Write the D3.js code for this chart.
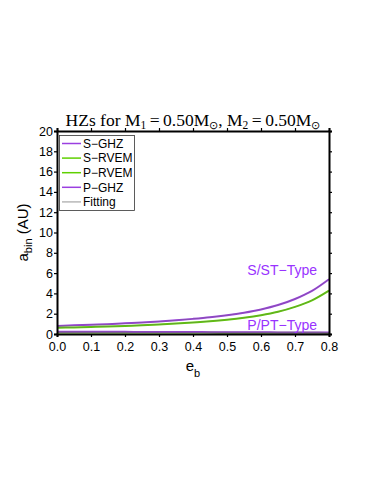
<!DOCTYPE html>
<html><head><meta charset="utf-8">
<script src="https://cdn.jsdelivr.net/npm/d3@7"></script>
<style>body{margin:0;background:#fff}svg{display:block}</style>
</head><body>
<svg id="c" width="374" height="484"></svg>
<script>
const eb = [0,0.05,0.1,0.15,0.2,0.25,0.3,0.35,0.4,0.45,0.5,0.55,0.6,0.65,0.7,0.75,0.8];
const sGHZ  = [0.80,0.85,0.91,0.97,1.05,1.13,1.23,1.35,1.49,1.65,1.85,2.10,2.42,2.85,3.45,4.25,5.40];
const sRVEM = [0.61,0.65,0.69,0.74,0.80,0.86,0.94,1.03,1.14,1.26,1.41,1.60,1.85,2.19,2.67,3.32,4.28];
const pRVEM = [0.16,0.16,0.16,0.15,0.15,0.15,0.15,0.14,0.14,0.14,0.13,0.13,0.13,0.12,0.12,0.12,0.11];
const pGHZ  = [0.22,0.22,0.21,0.21,0.21,0.20,0.20,0.19,0.19,0.18,0.18,0.17,0.17,0.16,0.16,0.15,0.15];
const xTicks = [0,0.1,0.2,0.3,0.4,0.5,0.6,0.7,0.8];
const yTicks = [0,2,4,6,8,10,12,14,16,18,20];
const legendNames = ["S\u2212GHZ","S\u2212RVEM","P\u2212RVEM","P\u2212GHZ","Fitting"];

const purple = "#9b3fe0", green = "#5fd000", gray = "#b8b8b8";
const legendColors = [purple, green, green, purple, gray];

const svg = d3.select("#c");
const L = 57, R = 329, T = 131, B = 334;
const x = d3.scaleLinear().domain([0,0.8]).range([L,R]);
const y = d3.scaleLinear().domain([0,20]).range([B,T]);
const sans = "'Liberation Sans', Arial, sans-serif";
const serif = "'Liberation Serif', 'Times New Roman', serif";

// curves
const line = d3.line().x((d,i)=>x(eb[i])).y(d=>y(d)).curve(d3.curveMonotoneX);
const g = svg.append("g");
[[sGHZ,purple],[sRVEM,green],[pRVEM,green],[pGHZ,purple]].forEach(([s,c])=>{
  g.append("path").attr("d",line(s)).attr("fill","none").attr("stroke",c).attr("stroke-width",2);
});
[sGHZ,sRVEM,pRVEM,pGHZ].forEach(s=>{
  g.append("path").attr("d",line(s)).attr("fill","none").attr("stroke","#6a6a6a").attr("stroke-width",0.6).attr("opacity",0.7);
});

// axes
const ax = (sel)=>{sel.selectAll("path").attr("stroke","#000").attr("stroke-width",2);
  sel.selectAll("line").attr("stroke","#000").attr("stroke-width",1.2);
  sel.selectAll("text").attr("font-family",sans).attr("font-size",12.5).attr("fill","#000");};
svg.append("g").attr("transform",`translate(0,${B})`)
  .call(d3.axisBottom(x).tickValues(xTicks).tickFormat(d3.format(".1f")).tickSizeOuter(0).tickSize(3).tickPadding(5)).call(ax);
svg.append("g").attr("transform",`translate(0,${T})`)
  .call(d3.axisTop(x).tickValues(xTicks).tickFormat("").tickSizeOuter(0).tickSize(3)).call(ax);
svg.append("g").attr("transform",`translate(${L},0)`)
  .call(d3.axisLeft(y).tickValues(yTicks).tickFormat(d3.format("d")).tickSizeOuter(0).tickSize(3).tickPadding(1)).call(ax);
svg.append("g").attr("transform",`translate(${R},0)`)
  .call(d3.axisRight(y).tickValues(yTicks).tickFormat("").tickSizeOuter(0).tickSize(3)).call(ax);

// title
const t = svg.append("text").attr("x",(L+R)/2).attr("y",126).attr("text-anchor","middle")
  .attr("font-family",serif).attr("font-size",17.5).attr("fill","#000");
t.append("tspan").text("HZs for M");
t.append("tspan").text("1").attr("font-size",11.5).attr("dy",3);
t.append("tspan").text("\u2009=\u20090.50M").attr("dy",-3);
t.append("tspan").text("\u2299").attr("font-size",10.5).attr("dy",3);
t.append("tspan").text(", M").attr("dy",-3);
t.append("tspan").text("2").attr("font-size",11.5).attr("dy",3);
t.append("tspan").text("\u2009=\u20090.50M").attr("dy",-3);
t.append("tspan").text("\u2299").attr("font-size",10.5).attr("dy",3);

// axis labels
const yl = svg.append("text").attr("transform",`translate(28,${(T+B)/2}) rotate(-90)`).attr("text-anchor","middle")
  .attr("font-family",sans).attr("font-size",15).attr("fill","#000");
yl.append("tspan").text("a");
yl.append("tspan").text("bin").attr("font-size",11).attr("dy",4);
yl.append("tspan").text(" (AU)").attr("dy",-4);
const xl = svg.append("text").attr("x",(L+R)/2).attr("y",371).attr("text-anchor","middle")
  .attr("font-family",sans).attr("font-size",15).attr("fill","#000");
xl.append("tspan").text("e");
xl.append("tspan").text("b").attr("font-size",11).attr("dy",6);

// legend
const lg = svg.append("g");
lg.append("rect").attr("x",59.5).attr("y",135.5).attr("width",75).attr("height",75)
  .attr("fill","#fff").attr("stroke","#333").attr("stroke-width",0.8);
legendNames.forEach((n,i)=>{
  const yy = 143.5 + i*14.6;
  lg.append("line").attr("x1",62).attr("x2",81).attr("y1",yy).attr("y2",yy)
    .attr("stroke",legendColors[i]).attr("stroke-width",1.5);
  lg.append("text").attr("x",83).attr("y",yy+4.3).text(n)
    .attr("font-family",sans).attr("font-size",12).attr("fill","#000");
});

// annotations
svg.append("text").attr("x",317).attr("y",275).attr("text-anchor","end").text("S/ST\u2212Type")
  .attr("font-family",sans).attr("font-size",14).attr("fill","#9933ff");
svg.append("text").attr("x",317).attr("y",330).attr("text-anchor","end").text("P/PT\u2212Type")
  .attr("font-family",sans).attr("font-size",14).attr("fill","#9933ff");
</script>
</body></html>
